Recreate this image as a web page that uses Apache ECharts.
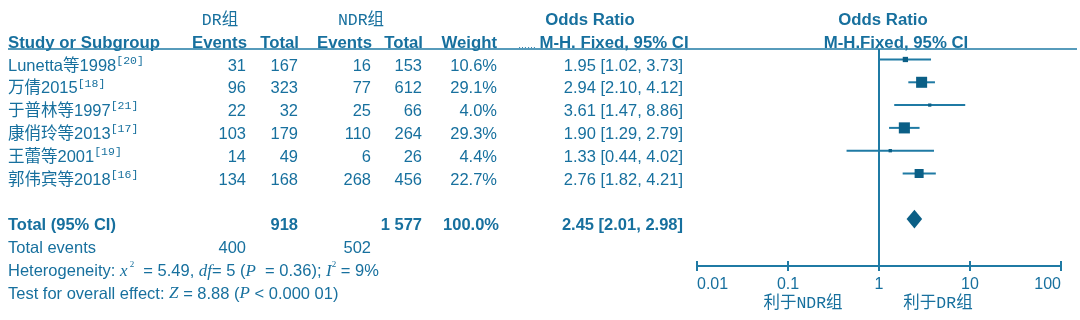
<!DOCTYPE html>
<html><head><meta charset="utf-8">
<script src="https://cdn.jsdelivr.net/npm/echarts@6/dist/echarts.min.js"></script>
<style>html,body{margin:0;padding:0;background:#fff}#c{width:1080px;height:320px}</style>
</head><body><div id="c"></div>
<script>
// ---------------- data ----------------
const studies   = ['Lunetta等1998', '万倩2015', '于普林等1997', '康俏玲等2013', '王蕾等2001', '郭伟宾等2018'];
const refs      = ['[20]', '[18]', '[21]', '[17]', '[19]', '[16]'];
const drEvents  = [31, 96, 22, 103, 14, 134];
const drTotal   = [167, 323, 32, 179, 49, 168];
const ndrEvents = [16, 77, 25, 110, 6, 268];
const ndrTotal  = [153, 612, 66, 264, 26, 456];
const weights   = [10.6, 29.1, 4.0, 29.3, 4.4, 22.7];
const orVal     = [1.95, 2.94, 3.61, 1.90, 1.33, 2.76];
const ciLow     = [1.02, 2.10, 1.47, 1.29, 0.44, 1.82];
const ciHigh    = [3.73, 4.12, 8.86, 2.79, 4.02, 4.21];
const totalLabel = 'Total (95% CI)';
const totalN    = ['918', '1 577'];
const totalWeight = '100.0%';
const totalOR   = [2.45, 2.01, 2.98];
const totalEvents = [400, 502];
const hetStats  = ['5.49', '5', '0.36', '9%'];     // chi2, df, P, I2
const effectStats = ['8.88', '< 0.000 01'];         // Z, P
const tickLabels = ['0.01', '0.1', '1', '10', '100'];
const groupNames = ['DR组', 'NDR组'];
const favourLabels = ['利于NDR组', '利于DR组'];

// ---------------- styles ----------------
const TXT = '#17709e', LINE = '#1f7aa4', MARK = '#0b5f86';
const FONT = "'Liberation Sans', 'Noto Sans CJK SC', sans-serif";
const SERIF = "'Liberation Serif', serif";
const CJKMONO = "'Liberation Mono', 'Noto Sans CJK SC', monospace";
const FS = 16.5;
const tok = (o) => Object.assign({fill: TXT, color: TXT, fontFamily: FONT, fontSize: FS, lineHeight: 22, verticalAlign: 'middle'}, o);
const rich = {
  n: tok({}),
  b: tok({fontWeight: 'bold'}),
  hb: tok({fontWeight: 'bold', fontSize: 16.8}),
  sup: tok({fontFamily: CJKMONO, fontSize: 11.5, lineHeight: 12, verticalAlign: 'top'}),
  i: tok({fontFamily: SERIF, fontStyle: 'italic', fontSize: 17}),
  s2: tok({fontFamily: SERIF, fontSize: 9, lineHeight: 11, verticalAlign: 'top'}),
  cap: tok({fontFamily: CJKMONO, fontSize: 16.5}),
  dots: tok({fontSize: 9, lineHeight: 10})
};

// table columns (anchor x, alignment) — layout only
const COL = {name: [8, 'left'], drEv: [246, 'right'], drTot: [298, 'right'], ndrEv: [371, 'right'],
             ndrTot: [422, 'right'], weight: [497, 'right'], orTxt: [683, 'right']};

const cells = [];
const add = (col, row, text, alignOverride) => {
  const c = Array.isArray(col) ? col : COL[col];
  cells.push({x: c[0], row, text, align: alignOverride || c[1]});
};
// header rows
add([220, 'center'], -2, '{cap|' + groupNames[0] + '}');
add([361, 'center'], -2, '{cap|' + groupNames[1] + '}');
add([590, 'center'], -2, '{hb|Odds Ratio}');
add([883, 'center'], -2, '{hb|Odds Ratio}');
add('name', -1, '{hb|Study or Subgroup}');
add([247, 'right'], -1, '{hb|Events}');
add([299, 'right'], -1, '{hb|Total}');
add([372, 'right'], -1, '{hb|Events}');
add([423, 'right'], -1, '{hb|Total}');
add([497, 'right'], -1, '{hb|Weight}');
add([527, 'center'], -0.88, '{dots|……}');
add([614, 'center'], -1, '{hb|M-H. Fixed, 95% CI}');
add([896, 'center'], -1, '{hb|M-H.Fixed, 95% CI}');
// study rows
studies.forEach((s, i) => {
  add('name', i, '{n|' + s + '}{sup|' + refs[i] + '}');
  add('drEv', i, '{n|' + drEvents[i] + '}');
  add('drTot', i, '{n|' + drTotal[i] + '}');
  add('ndrEv', i, '{n|' + ndrEvents[i] + '}');
  add('ndrTot', i, '{n|' + ndrTotal[i] + '}');
  add('weight', i, '{n|' + weights[i].toFixed(1) + '%}');
  add('orTxt', i, '{n|' + orVal[i].toFixed(2) + ' [' + ciLow[i].toFixed(2) + ', ' + ciHigh[i].toFixed(2) + ']}');
});
// total rows
add('name', 7, '{b|' + totalLabel + '}');
add('drTot', 7, '{b|' + totalN[0] + '}');
add('ndrTot', 7, '{b|' + totalN[1] + '}');
add([499, 'right'], 7, '{b|' + totalWeight + '}');
add('orTxt', 7, '{b|' + totalOR[0].toFixed(2) + ' [' + totalOR[1].toFixed(2) + ', ' + totalOR[2].toFixed(2) + ']}');
add('name', 8, '{n|Total events}');
add('drEv', 8, '{n|' + totalEvents[0] + '}');
add('ndrEv', 8, '{n|' + totalEvents[1] + '}');
add('name', 9, '{n|Heterogeneity: }{i|x}{s2| 2}{n|  = ' + hetStats[0] + ', }{i|df}{n|= ' + hetStats[1] + ' (}{i|P}{n|  = ' + hetStats[2] + '); }{i|I}{s2|2}{n| = ' + hetStats[3] + '}');
add('name', 10, '{n|Test for overall effect: }{i|Z}{n| = ' + effectStats[0] + ' (}{i|P}{n| ' + effectStats[1] + ')}');
// favour captions under the axis
add([803, 'center'], 10.44, '{cap|' + favourLabels[0] + '}');
add([938, 'center'], 10.44, '{cap|' + favourLabels[1] + '}');

const ROWH = 22.8;
const FY_MIN = -0.46, FY_MAX = -0.46 + 217 / ROWH;
const chart = echarts.init(document.getElementById('c'), null, {renderer: 'canvas'});
chart.setOption({
  animation: false,
  backgroundColor: '#fff',
  grid: [
    {left: 0, right: 0, top: 9, height: 13.5 * ROWH},          // table
    {left: 697, right: 19, top: 49, bottom: 54}                   // forest plot
  ],
  xAxis: [
    {type: 'value', gridIndex: 0, min: 0, max: 1080, show: false},
    {type: 'log', logBase: 10, gridIndex: 1, min: 0.01, max: 100, position: 'bottom', splitNumber: 4,
     axisLine: {show: true, onZero: false, lineStyle: {color: LINE, width: 2}},
     axisTick: {show: false},
     axisLabel: {show: true, color: TXT, fontSize: 16, fontFamily: FONT, margin: 11,
       alignMinLabel: 'left', alignMaxLabel: 'right',
       formatter: v => tickLabels[Math.round(Math.log10(v)) + 2]},
     splitLine: {show: false}}
  ],
  yAxis: [
    {type: 'value', gridIndex: 0, min: -2.5, max: 11, inverse: true, show: false},
    {type: 'value', gridIndex: 1, min: FY_MIN, max: FY_MAX, inverse: true, show: false}
  ],
  series: [
    { // table text
      type: 'custom', xAxisIndex: 0, yAxisIndex: 0, clip: false, silent: true,
      data: cells.map((c, i) => [c.x, c.row, i]),
      renderItem: (params, api) => {
        const c = cells[params.dataIndex];
        const p = api.coord([api.value(0), api.value(1)]);
        return {type: 'text', x: p[0], y: p[1],
          style: {text: c.text, rich, align: c.align, verticalAlign: 'middle', fill: TXT, font: FS + 'px ' + FONT}};
      }
    },
    { // header rule
      type: 'custom', xAxisIndex: 0, yAxisIndex: 0, clip: false, silent: true,
      data: [[8, -0.746, 1077]],
      renderItem: (params, api) => {
        const a = api.coord([api.value(0), api.value(1)]);
        const b = api.coord([api.value(2), api.value(1)]);
        return {type: 'line', shape: {x1: a[0], y1: a[1], x2: b[0], y2: b[1]}, style: {stroke: LINE, lineWidth: 1.6}};
      }
    },
    { // axis ticks crossing the axis line
      type: 'custom', xAxisIndex: 1, yAxisIndex: 1, clip: false, silent: true,
      data: tickLabels.map(t => [Number(t), FY_MAX]),
      renderItem: (params, api) => {
        const p = api.coord([api.value(0), api.value(1)]);
        return {type: 'line', shape: {x1: p[0], y1: p[1] - 5, x2: p[0], y2: p[1] + 5}, style: {stroke: LINE, lineWidth: 2}};
      }
    },
    { // study CIs and weighted squares
      type: 'custom', xAxisIndex: 1, yAxisIndex: 1, clip: false, silent: true,
      encode: {x: [0, 2, 3], y: 1},
      data: studies.map((s, i) => [orVal[i], i, ciLow[i], ciHigh[i], weights[i]]),
      renderItem: (params, api) => {
        const y = api.value(1);
        const lo = api.coord([api.value(2), y]);
        const hi = api.coord([api.value(3), y]);
        const c = api.coord([api.value(0), y]);
        const sz = 2 + 0.31 * api.value(4);
        return {type: 'group', children: [
          {type: 'line', shape: {x1: lo[0], y1: lo[1], x2: hi[0], y2: hi[1]}, style: {stroke: LINE, lineWidth: 2}},
          {type: 'rect', shape: {x: c[0] - sz / 2, y: c[1] - sz / 2, width: sz, height: sz}, style: {fill: MARK}}
        ]};
      }
    },
    { // pooled diamond + line of no effect
      type: 'custom', xAxisIndex: 1, yAxisIndex: 1, clip: false, silent: true,
      encode: {x: [0, 2, 3], y: 1},
      data: [[totalOR[0], 7, totalOR[1], totalOR[2]]],
      renderItem: (params, api) => {
        const y = api.value(1);
        const lo = api.coord([api.value(2), y]);
        const hi = api.coord([api.value(3), y]);
        const c = api.coord([api.value(0), y]);
        const h = 9.3;
        return {type: 'polygon', shape: {points: [[lo[0], lo[1]], [c[0], c[1] - h], [hi[0], hi[1]], [c[0], c[1] + h]]},
          style: {fill: MARK}};
      },
      markLine: {silent: true, symbol: ['none', 'none'], label: {show: false},
        lineStyle: {color: LINE, width: 2, type: 'solid'}, data: [{xAxis: 1}]}
    }
  ]
});
</script></body></html>
